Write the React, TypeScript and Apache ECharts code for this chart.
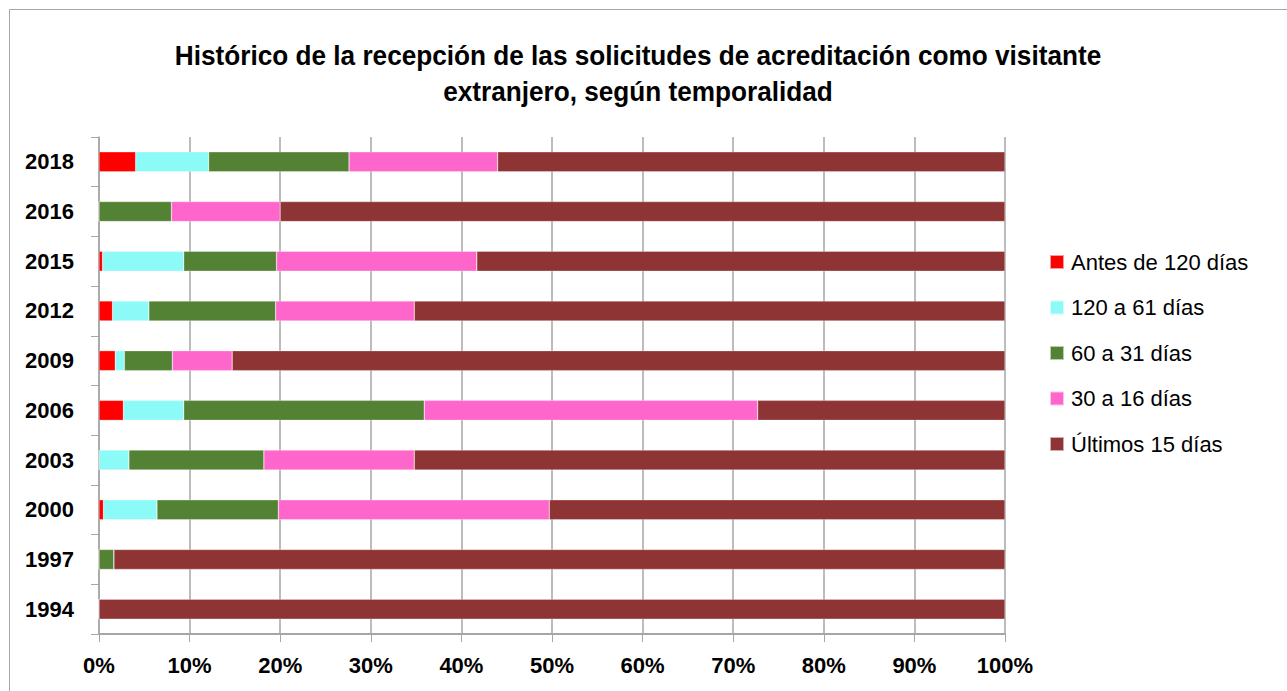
import React, { useEffect, useRef } from "react";
import * as echarts from "echarts";

const years = ["1994", "1997", "2000", "2003", "2006", "2009", "2012", "2015", "2016", "2018"];
const antes120 = [0, 0, 0.5, 0, 2.7, 1.8, 1.5, 0.4, 0, 4.05];
const d120a61 = [0, 0, 5.9, 3.3, 6.65, 1.0, 4.0, 8.95, 0, 8.05];
const d60a31 = [0, 1.65, 13.4, 14.9, 26.55, 5.3, 14.0, 10.25, 8.0, 15.5];
const d30a16 = [0, 0, 29.9, 16.6, 36.8, 6.6, 15.3, 22.1, 12.0, 16.4];
const ultimos15 = [100, 98.35, 50.3, 65.2, 27.3, 85.3, 65.2, 58.3, 80.0, 56.0];
const seriesNames = ["Antes de 120 días", "120 a 61 días", "60 a 31 días", "30 a 16 días", "Últimos 15 días"];
const seriesData = [antes120, d120a61, d60a31, d30a16, ultimos15];
const colors = ["#FF0000", "#8CFAF7", "#548235", "#FF66CC", "#8F3434"];
const titleLines = "Histórico de la recepción de las solicitudes de acreditación como visitante\nextranjero, según temporalidad";

const FONT = "'Liberation Sans', Arial, sans-serif";

export default function App() {
  const ref = useRef<HTMLDivElement>(null);
  useEffect(() => {
    if (!ref.current) return;
    const chart = echarts.init(ref.current, null, { renderer: "svg" });
    chart.setOption({
      animation: false,
      backgroundColor: "#ffffff",
      textStyle: { fontFamily: FONT },
      graphic: [
        {
          type: "rect",
          shape: { x: 9.5, y: 9.5, width: 1300, height: 700 },
          style: { fill: "none", stroke: "#a6a6a6", lineWidth: 1 },
          silent: true,
          z: -1,
        },
        {
          type: "text",
          x: 638,
          y: 37,
          scaleX: 0.935,
          style: {
            text: titleLines,
            fontFamily: FONT,
            fontSize: 28,
            fontWeight: "bold",
            fill: "#000",
            textAlign: "center",
            textVerticalAlign: "top",
            lineHeight: 36,
          },
          silent: true,
        },
      ],
      legend: {
        orient: "vertical",
        left: 1044,
        top: 246,
        itemWidth: 14,
        itemHeight: 14,
        itemGap: 23.5,
        icon: "rect",
        textStyle: { fontFamily: FONT, fontSize: 22, color: "#000", padding: [0, 0, 0, 2] },
        data: seriesNames,
      },
      grid: { left: 99, right: 282, top: 137, bottom: 57, containLabel: false },
      xAxis: {
        type: "value",
        min: 0,
        max: 100,
        interval: 10,
        axisLine: { show: true, lineStyle: { color: "#a6a6a6", width: 2 } },
        axisTick: { show: true, length: 8, lineStyle: { color: "#a6a6a6" } },
        splitLine: { show: true, lineStyle: { color: "#a6a6a6", width: 1.5 } },
        axisLabel: {
          formatter: "{value}%",
          fontFamily: FONT,
          fontSize: 22,
          fontWeight: "bold",
          color: "#000",
          margin: 20,
        },
      },
      yAxis: {
        type: "category",
        data: years,
        axisLine: { show: true, lineStyle: { color: "#a6a6a6", width: 1.5 } },
        axisTick: { show: true, length: 8, lineStyle: { color: "#a6a6a6" } },
        axisLabel: {
          fontFamily: FONT,
          fontSize: 22,
          fontWeight: "bold",
          color: "#000",
          margin: 25,
        },
      },
      series: seriesNames.map((name, i) => ({
        name,
        type: "bar",
        stack: "total",
        barWidth: 20,
        data: seriesData[i],
        itemStyle: { color: colors[i], borderColor: "rgba(255,255,255,0.6)", borderWidth: 0.5 },
      })),
    });
    return () => chart.dispose();
  }, []);
  return <div ref={ref} style={{ position: "absolute", left: 0, top: 0, width: 1287, height: 691 }} />;
}
